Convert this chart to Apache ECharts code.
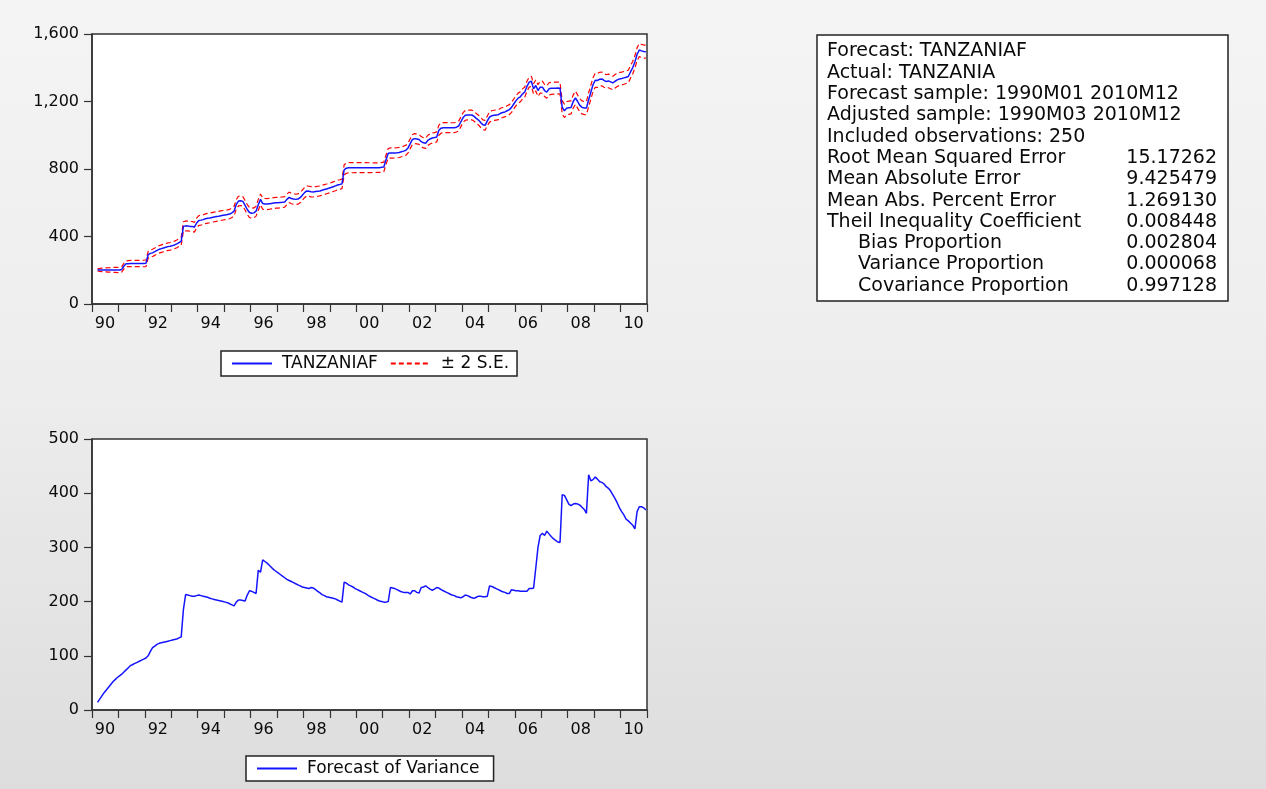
<!DOCTYPE html>
<html>
<head>
<meta charset="utf-8">
<title>TANZANIAF forecast</title>
<script src="https://cdn.jsdelivr.net/npm/echarts@6/dist/echarts.min.js"></script>
<style>
  html, body { margin: 0; padding: 0; }
  #chart { width: 1266px; height: 789px; }
</style>
</head>
<body>
<div id="chart"></div>
<script>
var FONT = '"DejaVu Sans", "Liberation Sans", sans-serif';

// monthly, 1990M01 .. 2010M12 (first two months are outside the adjusted sample)
var forecast = [
  null, null, 203, 202, 202, 202, 202, 202, 202, 202, 202, 202,
  202, 205, 225, 238, 239, 240, 240, 240, 240, 240, 240, 240,
  241, 292, 300, 303, 310, 318, 324, 328, 332, 336, 340, 342,
  346, 350, 356, 364, 371, 460, 463, 462, 460, 460, 455, 480,
  495, 497, 500, 505, 508, 510, 513, 516, 518, 520, 523, 526,
  528, 530, 533, 540, 550, 590, 610, 612, 608, 585, 560, 542,
  538, 540, 550, 588, 620, 595, 592, 592, 594, 596, 598, 600,
  600, 602, 603, 605, 620, 632, 625, 622, 620, 622, 630, 645,
  660, 670, 668, 665, 664, 666, 668, 670, 674, 678, 682, 686,
  690, 695, 700, 705, 708, 712, 795, 805, 808, 808, 808, 808,
  808, 808, 808, 808, 808, 808, 808, 808, 808, 808, 808, 810,
  812, 855, 893, 895, 895, 895, 896, 898, 902, 906, 911, 925,
  950, 975, 980, 978, 975, 962, 955, 952, 970, 978, 984, 986,
  990, 1030, 1042, 1045, 1045, 1045, 1045, 1045, 1045, 1048, 1055, 1080,
  1105, 1118, 1120, 1120, 1120, 1112, 1100, 1090, 1075, 1062, 1059, 1085,
  1108, 1115, 1118, 1120, 1122, 1130, 1135, 1138, 1145, 1152, 1165, 1185,
  1205, 1220, 1228, 1245, 1256, 1290, 1315, 1320, 1275, 1295, 1265, 1285,
  1285, 1265, 1256, 1275, 1278, 1279, 1279, 1280, 1279, 1165, 1145, 1160,
  1163, 1165, 1200, 1222, 1200, 1177, 1165, 1161, 1161, 1210, 1255, 1300,
  1326, 1325, 1332, 1334, 1325, 1318, 1322, 1316, 1310, 1320, 1328, 1334,
  1336, 1340, 1344, 1348, 1375, 1400, 1434, 1480, 1505, 1500, 1496, 1495
];

var variance = [
  null, null, 14, 20, 26, 32, 37, 42, 47, 52, 56, 60,
  63, 66, 70, 74, 78, 82, 84, 86, 88, 90, 92, 94,
  96, 100, 108, 115, 118, 121, 123, 124, 125, 126, 127, 128,
  129, 130, 131, 133, 135, 185, 213, 212, 211, 210, 210, 211,
  212, 211, 210, 209, 208, 206, 205, 204, 203, 202, 201, 200,
  199, 198, 196, 194, 192, 199, 203, 203, 202, 201, 212, 220,
  219, 217, 215, 258, 254, 277, 274, 271, 267, 263, 259, 256,
  253, 250, 247, 244, 241, 239, 237, 235, 233, 231, 229, 227,
  226, 225, 224, 226, 225, 222, 219, 216, 213, 211, 209, 208,
  207, 206, 205, 203, 201, 199, 236, 234, 231, 229, 227, 224,
  222, 220, 218, 216, 214, 211, 209, 207, 205, 203, 201, 200,
  199, 199, 200, 226, 225, 224, 222, 220, 218, 217, 217, 217,
  214, 220, 220, 217, 216, 226, 227, 229, 226, 223, 221, 223,
  226, 225, 222, 220, 218, 216, 214, 212, 211, 209, 208, 207,
  209, 212, 211, 209, 207, 206, 208, 210, 210, 209, 209, 210,
  229, 228, 226, 224, 222, 220, 218, 217, 215, 215, 222, 221,
  220, 220, 219, 219, 219, 219, 224, 224, 225, 262, 300, 322,
  326, 322, 330, 325, 320, 316, 313, 310, 309, 397, 396, 388,
  380, 377, 380, 381, 380, 378, 374, 370, 363, 434, 423, 425,
  430, 426, 421, 420, 417, 412, 409, 404, 397, 390, 382, 373,
  366, 360, 352, 349, 345, 341, 334, 366, 375, 375, 373, 369
];

var yearTicks = ['90', '92', '94', '96', '98', '00', '02', '04', '06', '08', '10'];

var statLabels = [
  'Forecast: TANZANIAF',
  'Actual: TANZANIA',
  'Forecast sample: 1990M01 2010M12',
  'Adjusted sample: 1990M03 2010M12',
  'Included observations: 250',
  'Root Mean Squared Error',
  'Mean Absolute Error',
  'Mean Abs. Percent Error',
  'Theil Inequality Coefficient',
  'Bias Proportion',
  'Variance Proportion',
  'Covariance Proportion'
];
var statValues = ['', '', '', '', '', '15.17262', '9.425479', '1.269130', '0.008448', '0.002804', '0.000068', '0.997128'];
var statIndent = [false, false, false, false, false, false, false, false, false, true, true, true];

// month i sits in the middle of its month on a fractional-year axis
function toPoints(arr) {
  var out = [];
  arr.forEach(function (v, i) {
    if (v != null) out.push([1990 + (i + 0.5) / 12, v]);
  });
  return out;
}

// +/- 2 standard errors around the forecast, from the forecast variance
var upper = [], lower = [];
forecast.forEach(function (f, i) {
  var v = variance[i];
  if (f == null || v == null) { upper.push(null); lower.push(null); return; }
  upper.push(f + 2 * Math.sqrt(v));
  lower.push(f - 2 * Math.sqrt(v));
});

function yearLabel(v) {
  if (v % 2 !== 0 || v > 2010) return '';
  return yearTicks[(v - 1990) / 2];
}

var axisColor = '#333';
var textColor = '#0a0a0a';
function xAxisOpt(gi) {
  return {
    gridIndex: gi, type: 'value', min: 1990, max: 2011, interval: 1,
    axisLine: { show: true, onZero: false, lineStyle: { color: axisColor, width: 1.5 } },
    axisTick: { show: true, length: 8, lineStyle: { color: axisColor, width: 1.2 } },
    splitLine: { show: false },
    axisLabel: {
      formatter: yearLabel, padding: [0, 0, 0, 26], margin: 12,
      fontFamily: FONT, fontSize: 16, color: textColor
    }
  };
}
function yAxisOpt(gi, max, step) {
  return {
    gridIndex: gi, type: 'value', min: 0, max: max, interval: step,
    axisLine: { show: true, lineStyle: { color: axisColor, width: 1.5 } },
    axisTick: { show: true, length: 8, lineStyle: { color: axisColor, width: 1.2 } },
    splitLine: { show: false },
    axisLabel: {
      margin: 13, fontFamily: FONT, fontSize: 16, color: textColor,
      formatter: function (v) { return v.toLocaleString('en-US'); }
    }
  };
}

// stats box on the right
var graphics = [{
  type: 'rect', z: 10,
  shape: { x: 817, y: 35, width: 411, height: 266 },
  style: { fill: '#fff', stroke: '#222', lineWidth: 1.5 }
}];
statLabels.forEach(function (txt, i) {
  var y = 51.5 + i * 21.3;
  graphics.push({
    type: 'text', z: 11, x: statIndent[i] ? 858 : 827, y: y,
    style: { text: txt, font: '19px ' + FONT, fill: textColor, verticalAlign: 'middle' }
  });
  if (statValues[i]) {
    graphics.push({
      type: 'text', z: 11, x: 1217, y: y,
      style: { text: statValues[i], font: '19px ' + FONT, fill: textColor, align: 'right', verticalAlign: 'middle' }
    });
  }
});

var legendBase = {
  orient: 'horizontal', itemWidth: 40, itemHeight: 14, itemGap: 12,
  padding: [4, 8, 4, 10], backgroundColor: '#fff',
  borderColor: '#222', borderWidth: 1.5, borderRadius: 0,
  selectedMode: false,
  itemStyle: { opacity: 0 },
  textStyle: { fontFamily: FONT, fontSize: 17, color: textColor, padding: [0, 0, 0, 5] }
};

var chart = echarts.init(document.getElementById('chart'));
chart.setOption({
  animation: false,
  backgroundColor: {
    type: 'linear', x: 0, y: 0, x2: 0, y2: 1,
    colorStops: [
      { offset: 0, color: '#f4f4f4' },
      { offset: 0.45, color: '#eeeeee' },
      { offset: 1, color: '#dddddd' }
    ]
  },
  grid: [
    { left: 92, top: 34, width: 555, height: 270, show: true, backgroundColor: '#fff', borderColor: axisColor, borderWidth: 1.5 },
    { left: 92, top: 439, width: 555, height: 271, show: true, backgroundColor: '#fff', borderColor: axisColor, borderWidth: 1.5 }
  ],
  xAxis: [xAxisOpt(0), xAxisOpt(1)],
  yAxis: [yAxisOpt(0, 1600, 400), yAxisOpt(1, 500, 100)],
  legend: [
    Object.assign({}, legendBase, { left: 221, top: 351, data: ['TANZANIAF', '± 2 S.E.'] }),
    Object.assign({}, legendBase, { left: 246, top: 756, padding: [4, 14, 4, 10], data: ['Forecast of Variance'] })
  ],
  graphic: graphics,
  series: [
    {
      name: '± 2 S.E.', type: 'line', xAxisIndex: 0, yAxisIndex: 0,
      data: toPoints(upper), symbol: 'none', silent: true,
      itemStyle: { color: '#ff0000' },
      lineStyle: { color: '#ff0000', width: 1.2, type: [5, 3] }
    },
    {
      name: '± 2 S.E.', type: 'line', xAxisIndex: 0, yAxisIndex: 0,
      data: toPoints(lower), symbol: 'none', silent: true,
      itemStyle: { color: '#ff0000' },
      lineStyle: { color: '#ff0000', width: 1.2, type: [5, 3] }
    },
    {
      name: 'TANZANIAF', type: 'line', xAxisIndex: 0, yAxisIndex: 0,
      data: toPoints(forecast), symbol: 'none', silent: true,
      itemStyle: { color: '#1414ff' },
      lineStyle: { color: '#1414ff', width: 1.5 }
    },
    {
      name: 'Forecast of Variance', type: 'line', xAxisIndex: 1, yAxisIndex: 1,
      data: toPoints(variance), symbol: 'none', silent: true,
      itemStyle: { color: '#1414ff' },
      lineStyle: { color: '#1414ff', width: 1.5 }
    }
  ]
});
</script>
</body>
</html>
